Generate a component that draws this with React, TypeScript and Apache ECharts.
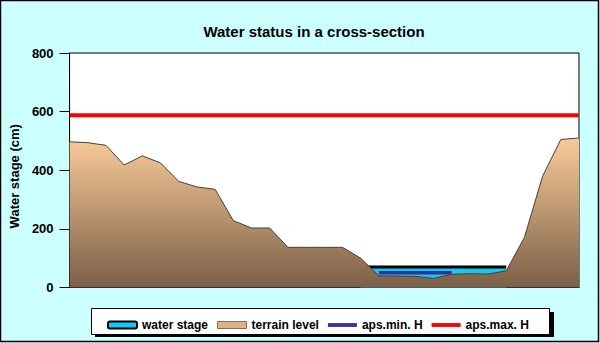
import React, { useEffect, useRef } from "react";
import * as echarts from "echarts";

const positions = ["1","2","3","4","5","6","7","8","9","10","11","12","13","14","15","16","17","18","19","20","21","22","23","24","25","26","27","28","29"];
const terrainLevel = [497, 494, 485, 418, 449, 425, 362, 343, 335, 228, 203, 203, 137, 137, 137, 137, 100, 40, 39, 38, 31, 45, 47, 46, 57, 171, 380, 505, 510];
const waterStage = [null, null, null, null, null, null, null, null, null, null, null, null, null, null, null, null, 70, 70, 70, 70, 70, 70, 70, 70, 70, null, null, null, null];
const apsMinH = [null, null, null, null, null, null, null, null, null, null, null, null, null, null, null, null, null, 50, 50, 50, 50, 50, null, null, null, null, null, null, null];
const apsMaxH = [588, 588, 588, 588, 588, 588, 588, 588, 588, 588, 588, 588, 588, 588, 588, 588, 588, 588, 588, 588, 588, 588, 588, 588, 588, 588, 588, 588, 588];
const yTicks = { min: 0, max: 800, interval: 200 };

const FONT = '"Liberation Sans", Arial, sans-serif';
const LINE_ICON = "path://M0,0H30V4H0Z";

export default function App() {
  const ref = useRef<HTMLDivElement>(null);
  useEffect(() => {
    document.body.style.margin = "0";
    const chart = echarts.init(ref.current!, null, { renderer: "svg" });
    chart.setOption({
      animation: false,
      backgroundColor: "#CCFFFF",
      title: {
        text: "Water status in a cross-section",
        left: 309,
        textAlign: "center",
        top: 19,
        textStyle: { fontFamily: FONT, fontWeight: "bold", fontSize: 15, color: "#000" },
      },
      graphic: [
        { type: "rect", z: 0, silent: true, shape: { x: 0.5, y: 0.5, width: 598, height: 341 }, style: { fill: "none", stroke: "#000", lineWidth: 1.5 } },
        { type: "rect", z: 0, silent: true, shape: { x: 95, y: 312, width: 459, height: 25 }, style: { fill: "#000" } },
        { type: "rect", z: 0, silent: true, shape: { x: 91.5, y: 308.5, width: 458, height: 26 }, style: { fill: "#fff", stroke: "#000", lineWidth: 1 } },
      ],
      legend: {
        z: 10,
        left: 102,
        top: 314,
        itemWidth: 29,
        itemHeight: 7,
        itemGap: 9,
        textStyle: { fontFamily: FONT, fontWeight: "bold", fontSize: 12, color: "#000" },
        data: [
          { name: "water stage", icon: "roundRect", itemStyle: { color: "#19C6EE", borderColor: "#000", borderWidth: 2 } },
          { name: "terrain level", icon: "rect", itemStyle: { color: "#DDB089", borderColor: "#8B6B4E", borderWidth: 1 } },
          { name: "aps.min. H", icon: LINE_ICON, itemStyle: { color: "#333399", borderWidth: 0 } },
          { name: "aps.max. H", icon: LINE_ICON, itemStyle: { color: "#FF0000", borderWidth: 0 } },
        ],
      },
      grid: {
        left: 68,
        right: 21,
        top: 53,
        bottom: 55.5,
        show: true,
        backgroundColor: "#fff",
        borderColor: "#000",
        borderWidth: 1,
      },
      xAxis: {
        type: "category",
        data: positions,
        boundaryGap: false,
        axisLine: { lineStyle: { color: "#000", width: 1 } },
        axisTick: { show: false },
        axisLabel: { show: false },
        splitLine: { show: false },
      },
      yAxis: {
        type: "value",
        min: yTicks.min,
        max: yTicks.max,
        interval: yTicks.interval,
        name: "Water stage (cm)",
        nameLocation: "middle",
        nameGap: 45,
        nameTextStyle: { fontFamily: FONT, fontWeight: "bold", fontSize: 13, color: "#000", padding: [0, 12, 0, 0] },
        axisLine: { show: true, lineStyle: { color: "#000", width: 1 } },
        axisTick: { show: true, length: 10, lineStyle: { color: "#000" } },
        axisLabel: { fontFamily: FONT, fontWeight: "bold", fontSize: 13, color: "#000", margin: 16 },
        splitLine: { show: false },
      },
      series: [
        {
          name: "water stage",
          type: "line",
          data: waterStage,
          symbol: "none",
          z: 2,
          lineStyle: { color: "#000", width: 3 },
          itemStyle: { color: "#19C6EE" },
          areaStyle: { color: "#19C6EE", opacity: 1 },
        },
        {
          name: "terrain level",
          type: "line",
          data: terrainLevel,
          symbol: "none",
          z: 3,
          lineStyle: { color: "#404040", width: 1 },
          itemStyle: { color: "#DDB089" },
          areaStyle: {
            opacity: 1,
            color: new echarts.graphic.LinearGradient(0, 0, 0, 1, [
              { offset: 0, color: "#FACB98" },
              { offset: 1, color: "#7B5F47" },
            ]),
          },
        },
        {
          name: "aps.min. H",
          type: "line",
          data: apsMinH,
          symbol: "none",
          z: 4,
          lineStyle: { color: "#333399", width: 3.5 },
          itemStyle: { color: "#333399" },
        },
        {
          name: "aps.max. H",
          type: "line",
          data: apsMaxH,
          symbol: "none",
          z: 5,
          lineStyle: { color: "#FF0000", width: 4 },
          itemStyle: { color: "#FF0000" },
        },
      ],
    });
    return () => chart.dispose();
  }, []);
  return <div ref={ref} style={{ width: 600, height: 343 }} />;
}
